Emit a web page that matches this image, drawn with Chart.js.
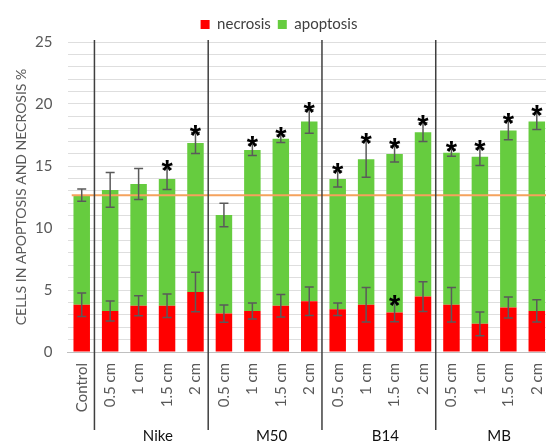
<!DOCTYPE html>
<html>
<head>
<meta charset="utf-8">
<script src="https://cdn.jsdelivr.net/npm/chart.js@4/dist/chart.umd.min.js"></script>
<style>
  html, body { margin: 0; padding: 0; background: #fff; overflow: hidden; }
  canvas { display: block; }
</style>
</head>
<body>
<canvas id="chart" width="551" height="443"></canvas>
<script>
// Categories along the x axis
const categories = ['Control',
  '0.5 cm', '1 cm', '1.5 cm', '2 cm',
  '0.5 cm', '1 cm', '1.5 cm', '2 cm',
  '0.5 cm', '1 cm', '1.5 cm', '2 cm',
  '0.5 cm', '1 cm', '1.5 cm', '2 cm'];

// Group names and the category index range each one spans
const groupNames = ['Nike', 'M50', 'B14', 'MB'];
const groupFirst = [1, 5, 9, 13];
const groupLast  = [4, 8, 12, 16];

// Series values (%), with their error bar half-heights
const necrosis    = [3.81, 3.31, 3.73, 3.73, 4.84, 3.10, 3.31, 3.73, 4.09, 3.45, 3.81, 3.18, 4.47, 3.81, 2.27, 3.59, 3.31];
const necrosisErr = [0.95, 0.80, 0.80, 0.95, 1.60, 0.70, 0.65, 0.90, 1.15, 0.50, 1.40, 0.75, 1.20, 1.40, 0.95, 0.85, 0.90];
const apoptosis    = [8.84, 9.76, 9.81, 10.22, 12.01, 7.95, 12.99, 13.47, 14.50, 10.50, 11.74, 12.79, 13.26, 12.26, 13.47, 14.28, 15.28];
const apoptosisErr = [0.50, 1.40, 1.25, 0.85, 0.85, 0.95, 0.45, 0.30, 0.95, 0.65, 1.45, 0.65, 0.75, 0.28, 0.70, 0.75, 0.65];

// Significance marks (1 = marked with an asterisk)
const necrosisSig  = [0, 0, 0, 0, 0, 0, 0, 0, 0, 0, 0, 1, 0, 0, 0, 0, 0];
const apoptosisSig = [0, 0, 0, 1, 1, 0, 1, 1, 1, 1, 1, 1, 1, 1, 1, 1, 1];

// Y axis ticks
const yTicks = [0, 5, 10, 15, 20, 25];

const FONT = 'Lato, "Open Sans", sans-serif';

// Keeps a fixed gap between the legend and the plot
const legendSpacing = {
  id: 'legendSpacing',
  beforeInit(chart) {
    chart.legend.afterFit = function () { this.height = 40; };
  }
};

// Error bars, significance asterisks, control reference line, group separators and names
const overlayPlugin = {
  id: 'overlay',
  afterDatasetsDraw(chart) {
    const ctx = chart.ctx;
    const x = chart.scales.x;
    const y = chart.scales.y;
    const area = chart.chartArea;

    // reference line at the control level
    const controlLevel = necrosis[0] + apoptosis[0];
    ctx.save();
    ctx.strokeStyle = '#f5a25d';
    ctx.lineWidth = 2;
    ctx.beginPath();
    const ly = y.getPixelForValue(controlLevel);
    ctx.moveTo(x.getPixelForValue(0) - 10, ly);
    ctx.lineTo(area.right, ly);
    ctx.stroke();
    ctx.restore();

    const series = [
      { vals: necrosis, errs: necrosisErr, sig: necrosisSig, base: () => 0 },
      { vals: apoptosis, errs: apoptosisErr, sig: apoptosisSig, base: (i) => necrosis[i] }
    ];

    ctx.save();
    ctx.strokeStyle = '#5a5a5a';
    ctx.lineWidth = 1.5;
    series.forEach((s, di) => {
      const meta = chart.getDatasetMeta(di);
      meta.data.forEach((bar, i) => {
        const top = s.base(i) + s.vals[i];
        const yHi = y.getPixelForValue(top + s.errs[i]);
        const yLo = y.getPixelForValue(top - s.errs[i]);
        const cx = bar.x;
        ctx.beginPath();
        ctx.moveTo(cx, yHi); ctx.lineTo(cx, yLo);
        ctx.moveTo(cx - 4.5, yHi); ctx.lineTo(cx + 4.5, yHi);
        ctx.moveTo(cx - 4.5, yLo); ctx.lineTo(cx + 4.5, yLo);
        ctx.stroke();
        if (s.sig[i]) {
          ctx.fillStyle = '#000';
          ctx.font = 'bold 29px "Liberation Sans", Arial, sans-serif';
          ctx.textAlign = 'center';
          ctx.textBaseline = 'alphabetic';
          ctx.fillText('*', cx, yHi + 12);
        }
      });
    });
    ctx.restore();

    // group separators and group names
    const step = x.getPixelForValue(1) - x.getPixelForValue(0);
    ctx.save();
    ctx.strokeStyle = '#3f3f3f';
    ctx.lineWidth = 1.5;
    groupFirst.forEach((f) => {
      const sx = x.getPixelForValue(f) - step / 2 - 1.5;
      ctx.beginPath();
      ctx.moveTo(sx, area.top - 2);
      ctx.lineTo(sx, 430);
      ctx.stroke();
    });
    ctx.fillStyle = '#111';
    ctx.font = '15px ' + FONT;
    ctx.textAlign = 'center';
    ctx.textBaseline = 'middle';
    groupNames.forEach((name, g) => {
      const gx = (x.getPixelForValue(groupFirst[g]) + x.getPixelForValue(groupLast[g])) / 2 + 5;
      ctx.fillText(name, gx, 436);
    });
    ctx.restore();
  }
};

new Chart(document.getElementById('chart'), {
  type: 'bar',
  data: {
    labels: categories,
    datasets: [
      { label: 'necrosis', data: necrosis, backgroundColor: '#ff0000', borderWidth: 0 },
      { label: 'apoptosis', data: apoptosis, backgroundColor: '#66cc3f', borderWidth: 0 }
    ]
  },
  options: {
    responsive: false,
    animation: false,
    devicePixelRatio: 1,
    barPercentage: 0.58,
    categoryPercentage: 1,
    layout: { padding: { top: 10, left: 7, right: 0, bottom: 31 } },
    plugins: {
      legend: {
        position: 'top',
        labels: {
          boxWidth: 9, boxHeight: 9, padding: 7,
          color: '#404040',
          font: { family: FONT, size: 15 }
        }
      },
      tooltip: { enabled: false }
    },
    scales: {
      x: {
        stacked: true,
        grid: { display: false, drawTicks: false },
        border: { display: true, color: '#bfbfbf', width: 1 },
        ticks: {
          color: '#595959',
          font: { family: FONT, size: 15 },
          minRotation: 90, maxRotation: 90,
          padding: 11,
          autoSkip: false
        },
        afterFit(scale) {
          scale.height = 60;
          scale.paddingLeft = 0;
          scale.paddingRight = 0;
        }
      },
      y: {
        stacked: true,
        min: 0, max: 25,
        afterBuildTicks(scale) {
          const t = [];
          for (let v = 0; v <= 25; v++) t.push({ value: v });
          scale.ticks = t;
        },
        afterFit(scale) {
          scale.width = 60.5;
          scale.paddingTop = 0;
          scale.paddingBottom = 0;
        },
        ticks: {
          color: '#595959',
          font: { family: FONT, size: 15 },
          padding: 15,
          autoSkip: false,
          callback: (v) => (yTicks.includes(v) ? String(v) : '')
        },
        grid: { color: '#dedede', lineWidth: 1, drawTicks: false },
        border: { display: false },
        title: {
          display: true,
          text: 'CELLS IN APOPTOSIS AND NECROSIS %',
          color: '#595959',
          font: { family: FONT, size: 14 },
          padding: { top: 6, bottom: 0 }
        }
      }
    }
  },
  plugins: [legendSpacing, overlayPlugin]
});
</script>
</body>
</html>
